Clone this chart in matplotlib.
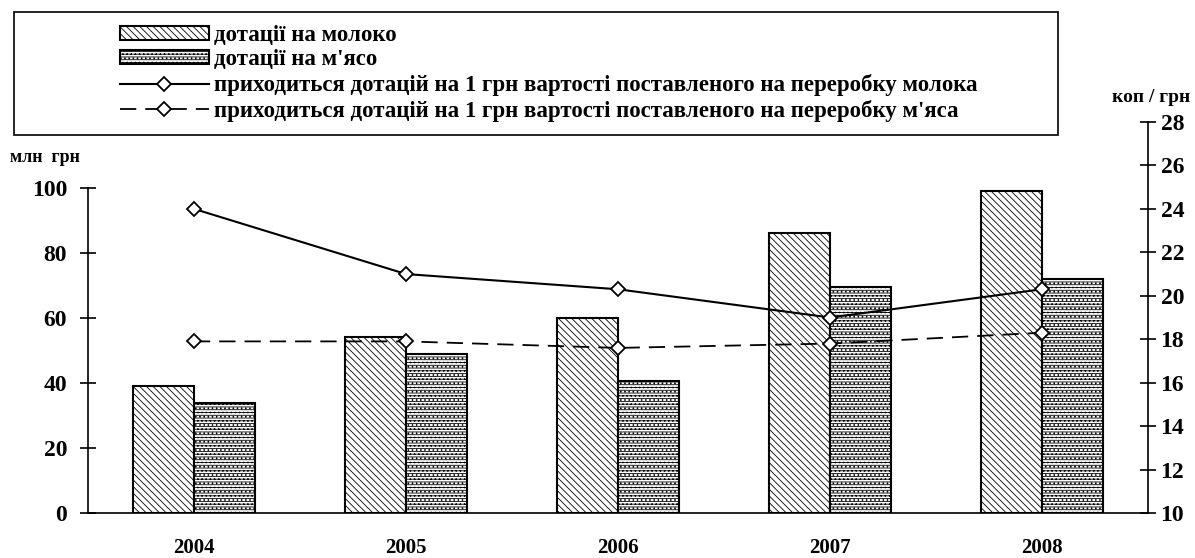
import numpy as np
import matplotlib
matplotlib.use("Agg")
import matplotlib.pyplot as plt
from matplotlib.patches import Rectangle

plt.rcParams['font.family'] = ['Liberation Serif', 'DejaVu Serif']
plt.rcParams['font.weight'] = 'bold'
plt.rcParams['hatch.linewidth'] = 0.6

# data
years = ["2004", "2005", "2006", "2007", "2008"]
milk_subsidy = [39, 54, 60, 86, 99]          # млн грн
meat_subsidy = [34, 49, 40.5, 69.5, 72]      # млн грн
milk_per_uah = [24.0, 21.0, 20.3, 19.0, 20.3]  # коп/грн
meat_per_uah = [17.9, 17.9, 17.6, 17.8, 18.3]  # коп/грн

labels = ["дотації на молоко",
          "дотації на м'ясо",
          "приходиться дотацій на 1 грн вартості поставленого на переробку молока",
          "приходиться дотацій на 1 грн вартості поставленого на переробку м'яса"]

fig = plt.figure(figsize=(11.95, 5.58), dpi=100)
ax = fig.add_axes([0.0736, 0.0806, 0.8871, 0.7008])
ax2 = ax.twinx()

x = np.arange(len(years))
w = 0.287
b1 = ax.bar(x - w / 2, milk_subsidy, w, color="white", edgecolor="black",
            linewidth=1.5, hatch="\\\\\\\\\\")
b2 = ax.bar(x + w / 2, meat_subsidy, w, color="white", edgecolor="black",
            linewidth=1.5, hatch="------....")

l1, = ax2.plot(x, milk_per_uah, color="black", lw=1.5, marker="D", ms=7,
               mfc="white", mec="black", mew=1.3)
l2, = ax2.plot(x, meat_per_uah, color="black", lw=1.3, dashes=(9, 5),
               marker="D", ms=7, mfc="white", mec="black", mew=1.3)

ax.set_xlim(-0.5, 4.5)
ax.set_ylim(0, 120.3)
ax.spines['left'].set_bounds(0, 100)
ax.set_yticks([0, 20, 40, 60, 80, 100])
ax2.set_ylim(10, 28)
ax2.set_yticks(range(10, 29, 2))

for s in ['top', 'right']:
    ax.spines[s].set_visible(False)
for s in ['top', 'left', 'bottom']:
    ax2.spines[s].set_visible(False)
for a in (ax, ax2):
    for s in a.spines.values():
        s.set_linewidth(1.2)

ax.set_xticks(x)
ax.set_xticklabels(years)
ax.tick_params(axis='x', length=0, pad=18, labelsize=15)
ax.tick_params(axis='y', direction='inout', length=12, width=1.2,
               pad=9, labelsize=17)
ax2.tick_params(axis='y', direction='inout', length=12, width=1.2,
                pad=3, labelsize=17)

fig.text(10 / 1195, 1 - 157 / 558, "млн  грн", fontsize=13, va='center')
fig.text(1190 / 1195, 1 - 98 / 558, "коп / грн", fontsize=14, va='center', ha='right')

# legend box drawn separately, entries placed inside
fig.patches.append(Rectangle((14 / 1195, 1 - 135 / 558), 1044 / 1195, 123 / 558,
                             transform=fig.transFigure, fill=False,
                             edgecolor="black", linewidth=1.2))
leg = fig.legend([b1, b2, l1, l2], labels, loc='upper left',
                 bbox_to_anchor=(106 / 1195, 1 - 11 / 558), frameon=False,
                 fontsize=16.5, handlelength=3.9, handletextpad=0.2,
                 handleheight=0.55, labelspacing=0.16, borderpad=0.1)

plt.savefig("out.png")
